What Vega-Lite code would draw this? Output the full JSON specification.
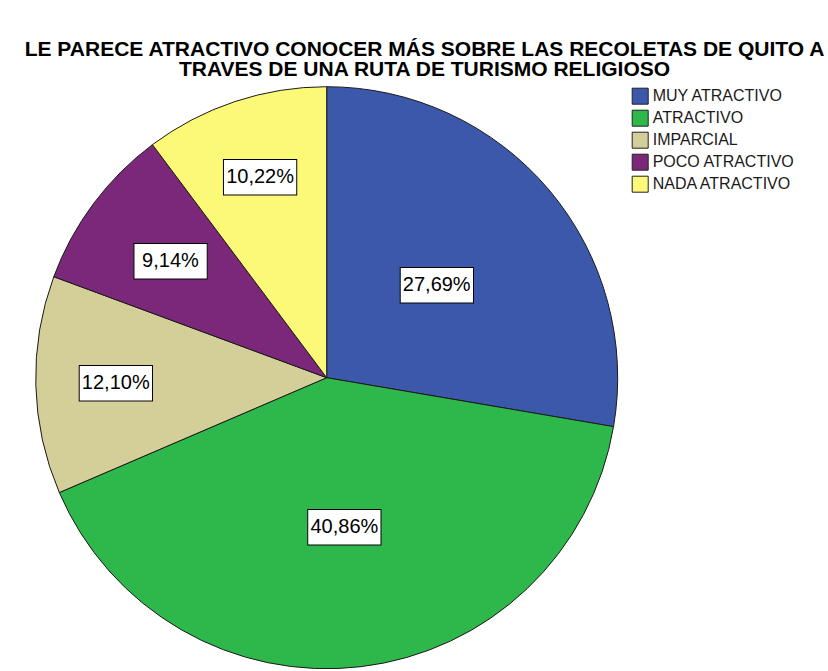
{
  "$schema": "https://vega.github.io/schema/vega-lite/v6.json",
  "autosize": {"type": "none"},
  "width": 582,
  "height": 582,
  "padding": {"left": 35.7, "top": 86.7, "right": 210.3, "bottom": 2.3},
  "background": "white",
  "title": {
    "text": ["LE PARECE ATRACTIVO CONOCER MÁS SOBRE LAS RECOLETAS DE QUITO A", "TRAVES DE UNA RUTA DE TURISMO RELIGIOSO"],
    "font": "Liberation Sans",
    "fontSize": 21,
    "fontWeight": "bold",
    "lineHeight": 20,
    "anchor": "middle",
    "frame": "group",
    "dx": 97.8,
    "offset": 5,
    "color": "#000000"
  },
  "data": {
    "values": [
      {"cat": "MUY ATRACTIVO", "pct": 27.69, "label": "27,69%", "i": 1},
      {"cat": "ATRACTIVO", "pct": 40.86, "label": "40,86%", "i": 2},
      {"cat": "IMPARCIAL", "pct": 12.10, "label": "12,10%", "i": 3},
      {"cat": "POCO ATRACTIVO", "pct": 9.14, "label": "9,14%", "i": 4},
      {"cat": "NADA ATRACTIVO", "pct": 10.22, "label": "10,22%", "i": 5}
    ]
  },
  "encoding": {
    "theta": {"field": "pct", "type": "quantitative", "stack": true},
    "order": {"field": "i", "type": "quantitative"}
  },
  "layer": [
    {
      "mark": {"type": "arc", "stroke": "#1a1a1a", "strokeWidth": 1},
      "encoding": {
        "color": {
          "field": "cat",
          "type": "nominal",
          "sort": ["MUY ATRACTIVO", "ATRACTIVO", "IMPARCIAL", "POCO ATRACTIVO", "NADA ATRACTIVO"],
          "scale": {
            "domain": ["MUY ATRACTIVO", "ATRACTIVO", "IMPARCIAL", "POCO ATRACTIVO", "NADA ATRACTIVO"],
            "range": ["#3C58AB", "#2EB84B", "#D4CE98", "#7B287A", "#FCF878"]
          },
          "legend": {
            "orient": "none",
            "legendX": 596,
            "legendY": 1,
            "title": null,
            "symbolType": "square",
            "symbolSize": 256,
            "symbolStrokeColor": "#222222",
            "symbolStrokeWidth": 1,
            "labelFont": "Liberation Sans",
            "labelFontSize": 16,
            "labelColor": "#1a1a1a",
            "rowPadding": 1,
            "labelOffset": 4,
            "padding": 0
          }
        }
      }
    },
    {
      "mark": {"type": "text", "text": "▬", "font": "DejaVu Sans", "fontSize": 96, "fill": "white", "stroke": "black", "strokeWidth": 1, "align": "center", "baseline": "middle", "dy": -4},
      "encoding": {
        "detail": {"field": "cat", "type": "nominal"},
        "radius": {
          "field": "pct",
          "type": "quantitative",
          "scale": {"type": "linear", "zero": false, "domain": [9.14, 10.22, 12.10, 27.69, 40.86], "range": [195, 211, 211, 144, 150]}
        }
      }
    },
    {
      "mark": {"type": "text", "font": "Liberation Sans", "fontSize": 20, "fill": "black", "align": "center", "baseline": "middle"},
      "encoding": {
        "detail": {"field": "cat", "type": "nominal"},
        "text": {"field": "label", "type": "nominal"},
        "radius": {
          "field": "pct",
          "type": "quantitative",
          "scale": {"type": "linear", "zero": false, "domain": [9.14, 10.22, 12.10, 27.69, 40.86], "range": [195, 211, 211, 144, 150]}
        }
      }
    }
  ],
  "config": {"view": {"stroke": null}}
}
